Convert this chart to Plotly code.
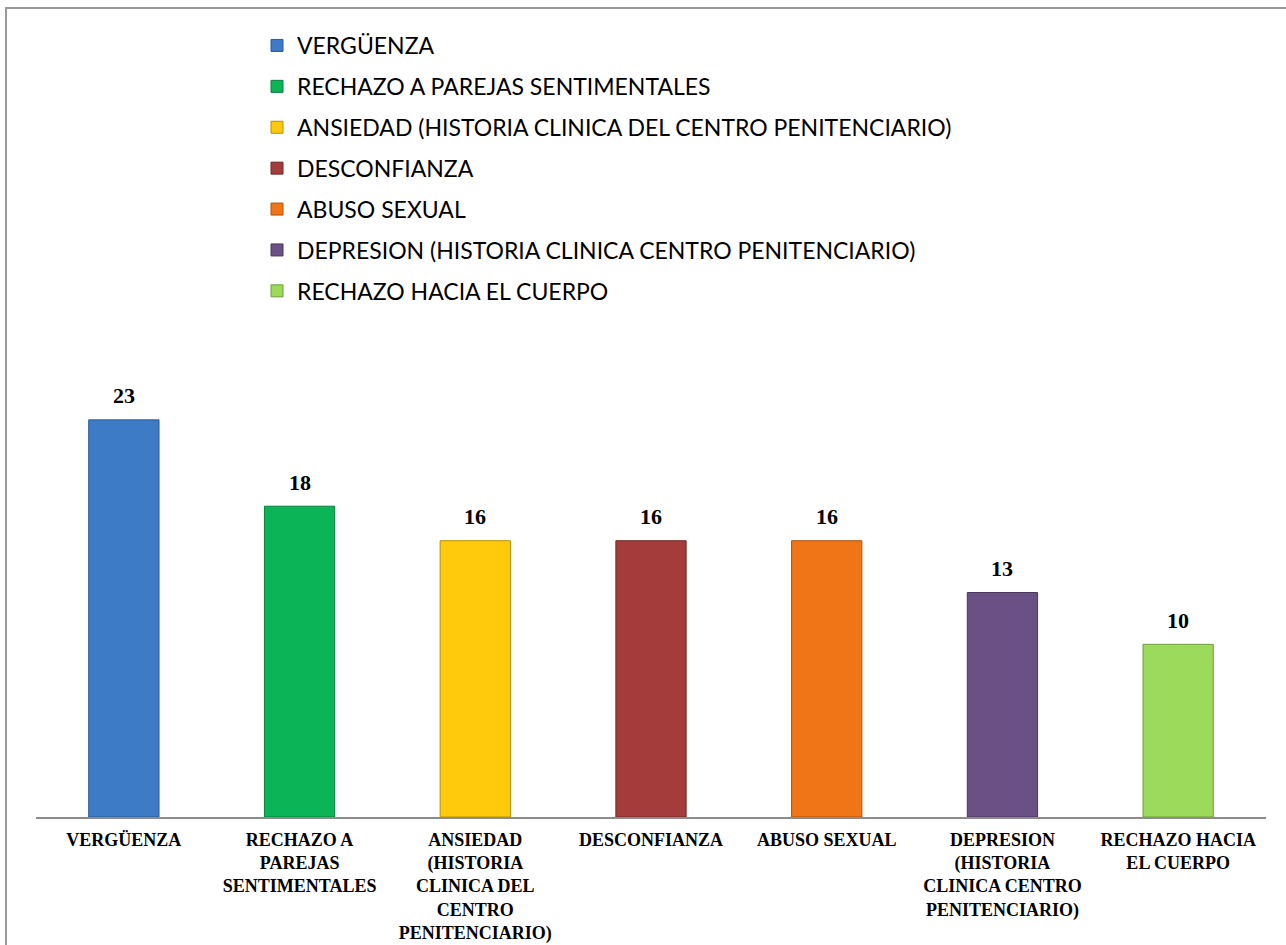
import plotly.graph_objects as go

categories = [
    "VERGÜENZA",
    "RECHAZO A PAREJAS SENTIMENTALES",
    "ANSIEDAD (HISTORIA CLINICA DEL CENTRO PENITENCIARIO)",
    "DESCONFIANZA",
    "ABUSO SEXUAL",
    "DEPRESION (HISTORIA CLINICA CENTRO PENITENCIARIO)",
    "RECHAZO HACIA EL CUERPO",
]
tick_labels = [
    "VERGÜENZA",
    "RECHAZO A<br>PAREJAS<br>SENTIMENTALES",
    "ANSIEDAD<br>(HISTORIA<br>CLINICA DEL<br>CENTRO<br>PENITENCIARIO)",
    "DESCONFIANZA",
    "ABUSO SEXUAL",
    "DEPRESION<br>(HISTORIA<br>CLINICA CENTRO<br>PENITENCIARIO)",
    "RECHAZO HACIA<br>EL CUERPO",
]
values = [23, 18, 16, 16, 16, 13, 10]
colors = ["#3D7BC6", "#0BB457", "#FFC90C", "#A33C3A", "#F07516", "#6A5084", "#9BDA5A"]
edge_colors = ["#2A5A94", "#07803D", "#B88F00", "#722826", "#B0530C", "#4A375E", "#6E9E3C"]

fig = go.Figure()
for cat, val, col, ec in zip(categories, values, colors, edge_colors):
    fig.add_trace(go.Bar(
        x=[cat], y=[val], name=cat, width=0.4,
        marker=dict(color=col, line=dict(color=ec, width=1)),
        legendgroup=cat,
        hoverinfo="x+y",
    ))

for cat, val in zip(categories, values):
    fig.add_annotation(
        x=cat, y=val, text="<b>%d</b>" % val, showarrow=False,
        yanchor="middle", yshift=24,
        font=dict(family="Liberation Serif", size=22, color="#000000"),
    )

W, H = 1286, 945
ml, mr, mt, mb = 36, 20, 299, 128
pw, ph = W - ml - mr, H - mt - mb

# outer gray frame
fig.add_shape(
    type="rect", xref="paper", yref="paper",
    x0=(6 - ml) / pw, x1=(1320 - ml) / pw,
    y0=(H - mb - 1000) / ph, y1=(H - mb - 8) / ph,
    line=dict(color="#9A9A9A", width=2), fillcolor="rgba(0,0,0,0)", layer="below",
)

fig.update_layout(
    width=W, height=H,
    margin=dict(l=ml, r=mr, t=mt, b=mb, autoexpand=False),
    paper_bgcolor="white", plot_bgcolor="white",
    barmode="overlay",
    showlegend=True,
    legend=dict(
        x=(257 - ml) / pw, y=(H - mb - 24) / ph, xanchor="left", yanchor="top",
        traceorder="grouped", tracegroupgap=8,
        font=dict(family="Lato", size=23, color="#000000"),
        bgcolor="rgba(0,0,0,0)",
    ),
    xaxis=dict(
        categoryorder="array", categoryarray=categories,
        tickmode="array", tickvals=categories, ticktext=["<b>%s</b>" % t for t in tick_labels],
        tickfont=dict(family="Liberation Serif", size=18, color="#000000"),
        showline=True, linecolor="#8C8C8C", linewidth=2, automargin=False,
        showgrid=False, ticks="", tickangle=0, ticklabelstandoff=5,
    ),
    yaxis=dict(range=[0, 30], visible=False, showgrid=False, zeroline=False),
)

fig.write_html(
    "out.html",
    config={"displayModeBar": False},
    post_script="document.body.style.margin='0';document.body.style.overflow='hidden';",
)
